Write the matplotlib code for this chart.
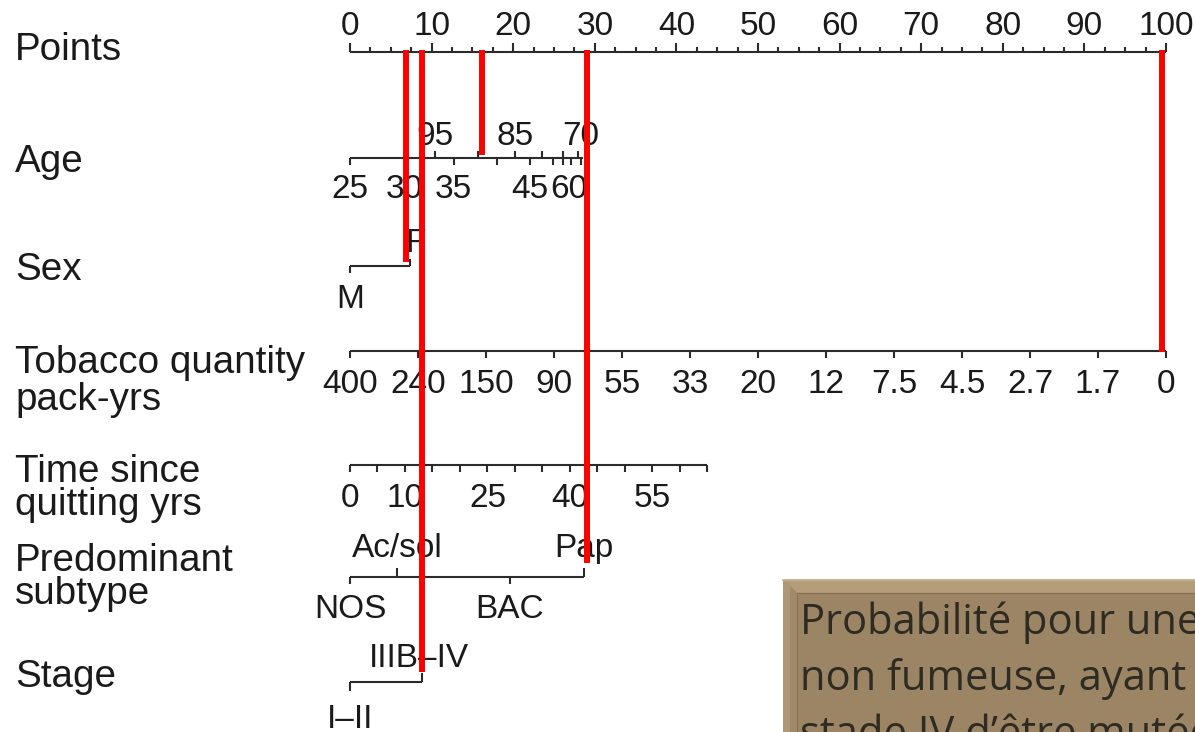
import matplotlib.pyplot as plt
from matplotlib.patches import Polygon

# canvas geometry (pixels): points 0 sits at X0, one point = PX pixels
W, H = 1195, 732
X0, PX = 350, 8.16

INK = '#2b2b2b'
RED = '#ff0000'

# Points scale
points_major = list(range(0, 101, 10))
points_minor = [i * 2.5 for i in range(41)]

# Age: spline effect, rising branch (labels below) and falling branch (labels above)
age_low = [25, 30, 35, 40, 45, 50, 55, 60, 65]
age_low_pts = [0.0, 6.7, 12.7, 18.0, 22.1, 24.9, 26.1, 27.1, 28.3]
age_low_labels = [25, 30, 35, 45, 60]
age_high = [95, 90, 85, 80, 75, 70]
age_high_pts = [10.4, 15.7, 20.2, 23.5, 26.1, 28.0]
age_high_labels = [95, 85, 70]
age_max_pts = 28.6

# Sex
sex_levels = ['M', 'F']
sex_pts = [0.0, 7.3]

# Tobacco quantity (pack-years), equally spaced on the transformed scale
tobacco_labels = ['400', '240', '150', '90', '55', '33', '20', '12',
                  '7.5', '4.5', '2.7', '1.7', '0']
tobacco_pts = [i * 100 / 12 for i in range(13)]

# Time since quitting (years)
quit_years = list(range(0, 66, 5))
quit_labels = [0, 10, 25, 40, 55]
quit_pts_per_year = 0.674

# Predominant subtype
subtype_levels = ['NOS', 'Ac/sol', 'BAC', 'Pap']
subtype_pts = [0.0, 5.8, 19.6, 28.7]
subtype_up = [False, True, False, True]

# Stage
stage_levels = ['I\u2013II', 'IIIB\u2013IV']
stage_pts = [0.0, 8.8]

# selected patient: score read on each variable (points)
sel_age_pts = 16.2
sel_sex_pts = 6.9
sel_tobacco_pts = 99.5
sel_subtype_pts = 29.0
sel_stage_pts = stage_pts[1]

fig = plt.figure(figsize=(W / 100, H / 100), dpi=100)
ax = fig.add_axes([0, 0, 1, 1])
ax.set_xlim(-X0 / PX, (W - X0) / PX)
ax.set_ylim(H, 0)
ax.axis('off')

NOMO_FONT = ['Liberation Sans', 'DejaVu Sans']
LAB_SIZE = 27.8
TICK_SIZE = 24

# row layout: y of each scale line (pixels from top)
Y_POINTS, Y_AGE, Y_SEX, Y_TOB, Y_QUIT, Y_SUB, Y_STAGE = 52, 158, 266, 351, 465, 577, 682


def hline(x0, x1, y):
    ax.plot([x0, x1], [y, y], color=INK, lw=1.5, solid_capstyle='butt', zorder=2)


def tick(x, y, length):
    ax.plot([x, x], [y, y + length], color=INK, lw=1.5, solid_capstyle='butt', zorder=2)


def tlabel(x, y, s, dx=0):
    ax.text(x + dx / PX, y, s, ha='center', va='baseline', fontsize=TICK_SIZE,
            family=NOMO_FONT, color='#1a1a1a', zorder=3)


# Points
hline(0, 100, Y_POINTS)
for v in points_minor:
    tick(v, Y_POINTS, -9 if v % 10 == 0 else -5)
for v in points_major:
    tlabel(v, Y_POINTS - 17, str(v))

# Age
hline(0, age_max_pts, Y_AGE)
for a, p in zip(age_low, age_low_pts):
    tick(p, Y_AGE, 7)
    if a in age_low_labels:
        tlabel(p, Y_AGE + 40, str(a), dx=-2 if a == 60 else 0)
for a, p in zip(age_high, age_high_pts):
    tick(p, Y_AGE, -7)
    if a in age_high_labels:
        tlabel(p, Y_AGE - 13, str(a), dx=2 if a == 70 else 0)

# Sex
hline(sex_pts[0], sex_pts[1], Y_SEX)
tick(sex_pts[0], Y_SEX, 7)
tick(sex_pts[1], Y_SEX, -7)
tlabel(sex_pts[0], Y_SEX + 42, sex_levels[0])
tlabel(sex_pts[1], Y_SEX - 14, sex_levels[1], dx=6)

# Tobacco quantity
hline(tobacco_pts[0], tobacco_pts[-1], Y_TOB)
for p, s in zip(tobacco_pts, tobacco_labels):
    tick(p, Y_TOB, 7)
    tlabel(p, Y_TOB + 42, s)

# Time since quitting
hline(0, quit_years[-1] * quit_pts_per_year, Y_QUIT)
for yr in quit_years:
    tick(yr * quit_pts_per_year, Y_QUIT, 7)
for yr in quit_labels:
    tlabel(yr * quit_pts_per_year, Y_QUIT + 42, str(yr))

# Predominant subtype
hline(subtype_pts[0], subtype_pts[-1], Y_SUB)
for s, p, up in zip(subtype_levels, subtype_pts, subtype_up):
    tick(p, Y_SUB, -9 if up else 7)
    tlabel(p, Y_SUB - 20 if up else Y_SUB + 41, s)

# Stage
hline(stage_pts[0], stage_pts[1], Y_STAGE)
tick(stage_pts[0], Y_STAGE, 9)
tick(stage_pts[1], Y_STAGE, -9)
tlabel(stage_pts[0], Y_STAGE + 46, stage_levels[0])
tlabel(stage_pts[1], Y_STAGE - 15, stage_levels[1], dx=-3)

# variable names on the left
ytx = ax.get_yaxis_transform()
left_names = [('Points', 60), ('Age', 172), ('Sex', 280),
              ('Tobacco quantity', 373), ('pack-yrs', 410),
              ('Time since', 482), ('quitting yrs', 515),
              ('Predominant', 571), ('subtype', 604), ('Stage', 687)]
for name, base in left_names:
    ax.text(15 / W, base, name, transform=ytx, ha='left', va='baseline',
            fontsize=LAB_SIZE, family=NOMO_FONT, color='#1a1a1a')

# red reading lines from each selected value up to the Points scale
reads = [(sel_sex_pts, Y_SEX - 4), (sel_stage_pts, Y_STAGE - 10),
         (sel_age_pts, Y_AGE - 3), (sel_subtype_pts, Y_SUB - 14),
         (sel_tobacco_pts, Y_TOB + 1)]
for p, y_end in reads:
    ax.plot([p, p], [Y_POINTS - 2, y_end], color=RED, lw=4.3,
            solid_capstyle='butt', zorder=4)

# bevelled caption box, running off the lower right corner
bx, by, bev = 783, 579, 14


def px(x):
    return (x - X0) / PX


far_x, far_y = W + 50, H + 50
ax.add_patch(Polygon([(px(bx), by), (px(far_x), by), (px(far_x), far_y), (px(bx), far_y)],
                     closed=True, facecolor='#9c8565', edgecolor='none', zorder=5))
# top bevel
ax.add_patch(Polygon([(px(bx), by), (px(far_x), by), (px(far_x), by + bev),
                      (px(bx + bev), by + bev)],
                     closed=True, facecolor='#b39d7b', edgecolor='none', zorder=6))
ax.plot([px(bx), px(far_x)], [by + 1, by + 1], color='#c9b694', lw=1.2, zorder=7)
# left bevel, lighter on the outside
ax.add_patch(Polygon([(px(bx), by), (px(bx + bev), by + bev), (px(bx + bev), far_y),
                      (px(bx), far_y)],
                     closed=True, facecolor='#a08a69', edgecolor='none', zorder=6))
ax.add_patch(Polygon([(px(bx), by), (px(bx + bev / 2), by + bev / 2),
                      (px(bx + bev / 2), far_y), (px(bx), far_y)],
                     closed=True, facecolor='#ae9877', edgecolor='none', zorder=6))
ax.plot([px(bx + bev), px(far_x)], [by + bev, by + bev], color='#857053', lw=0.9, zorder=7)
ax.plot([px(bx + bev), px(bx + bev)], [by + bev, far_y], color='#8a7557', lw=0.9, zorder=7)

caption = ['Probabilité pour une femme',
           'non fumeuse, ayant un cancer',
           'stade IV d\u2019être mutée EGFR']
for i, line in enumerate(caption):
    ax.text(px(800), 634 + i * 56, line, ha='left', va='baseline', fontsize=30,
            family=['Open Sans', 'DejaVu Sans'], color='#2e2b22', zorder=8)

fig.savefig('out.png', dpi=100)
